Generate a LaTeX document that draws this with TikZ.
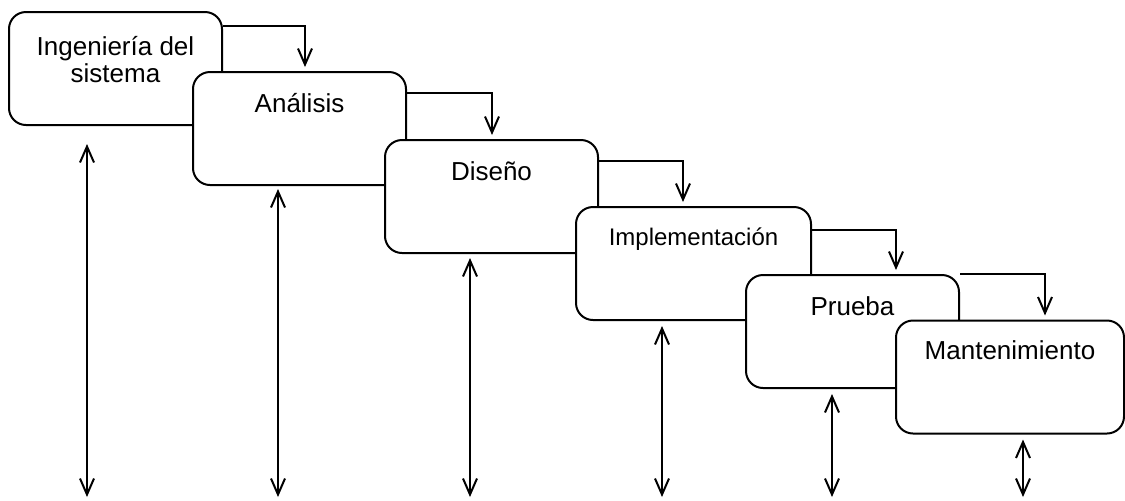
\documentclass[tikz,border=0pt]{standalone}
\usepackage{fontspec}
\setmainfont{Liberation Sans}
\usetikzlibrary{arrows.meta,calc}

\begin{document}
\begin{tikzpicture}[
  x=0.5pt, y=-0.5pt,
  line width=1pt,
  >={Straight Barb[length=8pt,width=7pt]},
  every node/.style={font=\fontsize{13}{13.5}\selectfont},
  phase/.style={draw,fill=white,rounded corners=8.5pt,inner sep=0pt,
                minimum width=106.5pt,minimum height=56.5pt,
                text height=20pt,text depth=36.5pt,align=center}
]
\useasboundingbox (0,0) rectangle (1125,500);
\coordinate (floor) at (0,497);

% the phases, each one laid over the one before
\node[phase,text height=35pt,text depth=21.5pt] (ing) at (115.5,68.5) {Ingeniería del\\sistema};
\node[phase] (ana) at (299.5,128.5) {Análisis};
\node[phase] (dis) at (491.5,196.5) {Diseño};
\node[phase,minimum width=117.5pt,text height=19pt,text depth=37.5pt,
      font=\fontsize{12}{13}\selectfont] (imp) at (693.5,263.5) {Implementación};
\node[phase] (pru) at (852.5,331.5) {Prueba};
\node[phase,minimum width=114pt,text height=19.5pt,text depth=37pt] (man) at (1010,377) {Mantenimiento};

% step down to the next phase
\foreach \a/\b/\dy/\dx in {ing/ana/15/5.5, ana/dis/22/0.5, dis/imp/22/-10.5,
                           imp/pru/24/43.5, pru/man/0/35}
  \draw[->] ($(\a.north east)+(0,\dy)$) -| ($(\b.north)+(\dx,-4)$);

% two-way links under every phase
\foreach \b/\dx/\gap in {ing/-28.5/18, ana/-21.5/3, dis/-21.5/4,
                         imp/-31.5/5, pru/-20.5/5, man/13/5}
  \draw[<->] ($(\b.south)+(\dx,\gap)$) coordinate (top) -- (top |- floor);
\end{tikzpicture}
\end{document}
